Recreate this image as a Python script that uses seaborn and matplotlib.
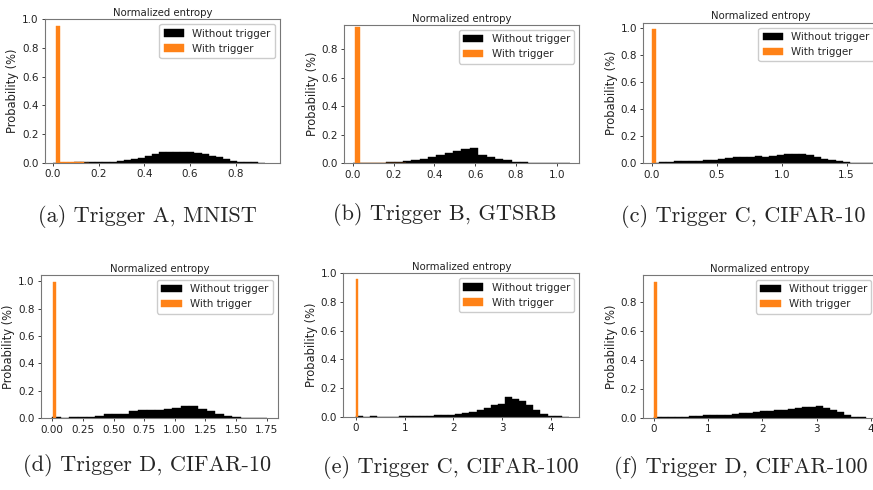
"""Entropy histograms with and without trigger, six panels."""

import matplotlib
matplotlib.use('Agg')
import matplotlib.pyplot as plt
import seaborn as sns
import numpy as np
import pandas as pd

sns.set_style('ticks')
plt.rcParams['font.family'] = ['DejaVu Sans']

# ---- data: bin range + per-bin probability ----
# (a) Trigger A, MNIST
a_clean_range = (0.0, 0.93)
a_clean = [0.0, 0.001, 0.001, 0.002, 0.002, 0.003, 0.005, 0.006, 0.008, 0.012,
           0.016, 0.024, 0.034, 0.048, 0.058, 0.072, 0.072, 0.073, 0.077, 0.072,
           0.066, 0.058, 0.05, 0.04, 0.028, 0.015, 0.008, 0.004, 0.002, 0.001]
a_trig_range = (0.012, 0.156)
a_trig = [0.952, 0.004, 0.004, 0.003, 0.003, 0.002, 0.002, 0.001]

# (b) Trigger B, GTSRB
b_clean_range = (0.0, 1.066)
b_clean = [0.0, 0.002, 0.003, 0.005, 0.008, 0.012, 0.016, 0.02, 0.033, 0.045,
           0.058, 0.072, 0.088, 0.102, 0.108, 0.06, 0.045, 0.03, 0.022, 0.012,
           0.006, 0.002, 0.001, 0.0005, 0.0003, 0.0002]
b_trig_range = (0.011, 0.261)
b_trig = [0.954, 0.003, 0.003, 0.003, 0.003, 0.003, 0.002, 0.002, 0.002, 0.001]

# (c) Trigger C, CIFAR-10
c_clean_range = (0.0, 1.7)
c_clean = [0.003, 0.006, 0.008, 0.014, 0.015, 0.02, 0.02, 0.022, 0.026, 0.033,
           0.04, 0.047, 0.048, 0.05, 0.055, 0.05, 0.052, 0.06, 0.068, 0.072,
           0.068, 0.058, 0.046, 0.034, 0.022, 0.014, 0.008, 0.004, 0.002, 0.001]
c_trig_range = (0.005, 0.035)
c_trig = [0.99]

# (d) Trigger D, CIFAR-10
d_clean_range = (0.0, 1.75)
d_clean = [0.012, 0.004, 0.006, 0.01, 0.012, 0.02, 0.03, 0.03, 0.033, 0.05,
           0.057, 0.058, 0.063, 0.066, 0.072, 0.09, 0.089, 0.068, 0.05, 0.032,
           0.017, 0.008, 0.003, 0.001, 0.0005]
d_trig_range = (0.003, 0.03)
d_trig = [0.995]

# (e) Trigger C, CIFAR-100
e_clean_range = (0.0, 4.37)
e_clean = [0.002, 0.001, 0.002, 0.001, 0.001, 0.001, 0.002, 0.002, 0.004, 0.005,
           0.008, 0.01, 0.013, 0.015, 0.019, 0.025, 0.035, 0.048, 0.063, 0.08,
           0.088, 0.138, 0.126, 0.112, 0.085, 0.05, 0.02, 0.006, 0.002, 0.001]
e_trig_range = (0.0, 0.05)
e_trig = [0.96]

# (f) Trigger D, CIFAR-100
f_clean_range = (0.0, 3.9)
f_clean = [0.004, 0.004, 0.005, 0.005, 0.006, 0.01, 0.013, 0.018, 0.016, 0.017,
           0.022, 0.024, 0.029, 0.031, 0.04, 0.045, 0.048, 0.052, 0.054, 0.06,
           0.066, 0.071, 0.076, 0.078, 0.068, 0.055, 0.04, 0.02, 0.007, 0.002]
f_trig_range = (0.0, 0.05)
f_trig = [0.938]

captions = ['(a) Trigger A, MNIST', '(b) Trigger B, GTSRB', '(c) Trigger C, CIFAR-10',
            '(d) Trigger D, CIFAR-10', '(e) Trigger C, CIFAR-100', '(f) Trigger D, CIFAR-100']

# ---- layout (figure pixels: left, right, top, bottom) ----
FIG_W, FIG_H = 873, 490
panels = [
    dict(clean=a_clean, cr=a_clean_range, trig=a_trig, tr=a_trig_range,
         box=(45, 280, 19.3, 162.7), xlim=(-0.035, 0.995), ylim=(0, 1.0),
         xticks=[0, 0.2, 0.4, 0.6, 0.8], yticks=[0, 0.2, 0.4, 0.6, 0.8, 1.0], cap=(147, 217)),
    dict(clean=b_clean, cr=b_clean_range, trig=b_trig, tr=b_trig_range,
         box=(344.3, 579.3, 25, 163.3), xlim=(-0.041, 1.11), ylim=(0, 0.969),
         xticks=[0, 0.2, 0.4, 0.6, 0.8, 1.0], yticks=[0, 0.2, 0.4, 0.6, 0.8], cap=(445, 215)),
    dict(clean=c_clean, cr=c_clean_range, trig=c_trig, tr=c_trig_range,
         box=(643.3, 879, 22.7, 163.3), xlim=(-0.065, 1.75), ylim=(0, 1.037),
         xticks=[0, 0.5, 1.0, 1.5], yticks=[0, 0.2, 0.4, 0.6, 0.8, 1.0], cap=(743, 217)),
    dict(clean=d_clean, cr=d_clean_range, trig=d_trig, tr=d_trig_range,
         box=(41, 277.7, 275, 418.3), xlim=(-0.092, 1.84), ylim=(0, 1.045),
         xticks=[0, 0.25, 0.5, 0.75, 1.0, 1.25, 1.5, 1.75], yticks=[0, 0.2, 0.4, 0.6, 0.8, 1.0],
         cap=(147, 465)),
    dict(clean=e_clean, cr=e_clean_range, trig=e_trig, tr=e_trig_range,
         box=(343.3, 579.3, 273.3, 416.7), xlim=(-0.26, 4.585), ylim=(0, 1.0),
         xticks=[0, 1, 2, 3, 4], yticks=[0, 0.2, 0.4, 0.6, 0.8, 1.0], cap=(451, 467)),
    dict(clean=f_clean, cr=f_clean_range, trig=f_trig, tr=f_trig_range,
         box=(643.3, 876.4, 275, 417.7), xlim=(-0.197, 4.1), ylim=(0, 0.984),
         xticks=[0, 1, 2, 3, 4], yticks=[0, 0.2, 0.4, 0.6, 0.8], cap=(741, 467)),
]


def hist_from_bins(ax, heights, bin_range, color, label):
    edges = np.linspace(bin_range[0], bin_range[1], len(heights) + 1)
    df = pd.DataFrame({'entropy': (edges[:-1] + edges[1:]) / 2, 'prob': heights})
    sns.histplot(data=df, x='entropy', weights='prob', bins=list(edges), color=color,
                 alpha=1, edgecolor=color, linewidth=0.3, ax=ax, label=label)


fig = plt.figure(figsize=(FIG_W / 100, FIG_H / 100), dpi=100)

for p, cap in zip(panels, captions):
    l, r, t, b = p['box']
    ax = fig.add_axes([l / FIG_W, 1 - b / FIG_H, (r - l) / FIG_W, (b - t) / FIG_H])
    hist_from_bins(ax, p['clean'], p['cr'], 'black', 'Without trigger')
    hist_from_bins(ax, p['trig'], p['tr'], '#ff8217', 'With trigger')

    ax.set_xlim(p['xlim'])
    ax.set_ylim(p['ylim'])
    ax.set_xticks(p['xticks'])
    ax.set_yticks(p['yticks'])
    ax.tick_params(labelsize=7.5, length=2.5, width=0.6, pad=2, colors='#222222')
    for s in ax.spines.values():
        s.set_visible(True)
        s.set_color('#777777')
        s.set_linewidth(0.8)
    ax.set_title('Normalized entropy', fontsize=7.3, pad=2.5, color='#222222')
    ax.set_xlabel('')
    ax.set_ylabel('Probability (%)', fontsize=8.3, labelpad=2, color='#222222')
    ax.legend(loc='upper right', fontsize=7.4, frameon=True, edgecolor='#cccccc',
              fancybox=True, framealpha=1, borderaxespad=0.5)

    fig.text(p['cap'][0] / FIG_W, 1 - p['cap'][1] / FIG_H, cap, ha='center', va='center',
             fontsize=16, family=['cmr10', 'DejaVu Serif'])

plt.savefig('out.png', dpi=100)
plt.close()
